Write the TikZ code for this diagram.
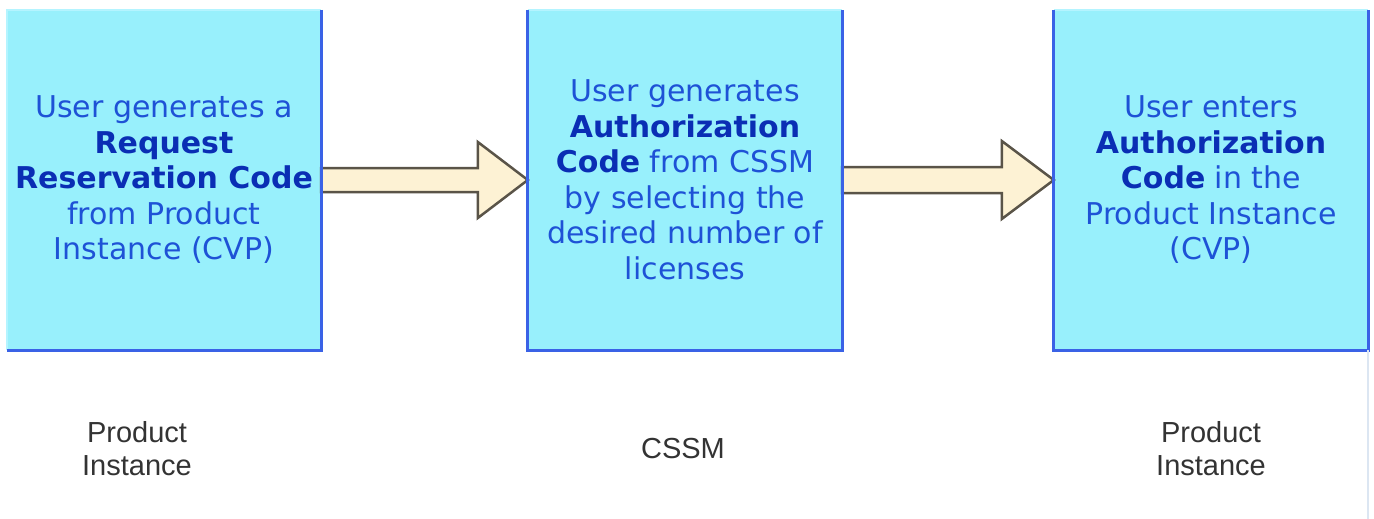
\documentclass[tikz,border=0pt]{standalone}
\usepackage{fontspec}
\setmainfont{DejaVu Sans}
\newfontfamily\labfont{Liberation Sans}
\usetikzlibrary{calc}
\definecolor{boxfill}{HTML}{98F0FC}
\definecolor{edgeblue}{HTML}{3A62E6}
\definecolor{edgelight}{HTML}{B4F4FF}
\definecolor{txtblue}{HTML}{1E52D6}
\definecolor{boldblue}{HTML}{0A2EB4}
\definecolor{arrowfill}{HTML}{FDF2D4}
\definecolor{arrowline}{HTML}{5A5448}
\definecolor{labgray}{HTML}{333333}
\definecolor{faintline}{HTML}{DCE6F2}
\newcommand\kw[1]{\textcolor{boldblue}{\textbf{#1}}}
\begin{document}
\begin{tikzpicture}[x=1pt,y=-1pt,
  stepbox/.style={minimum width=314pt, minimum height=340pt, fill=boxfill,
    inner sep=0pt, align=center, text=txtblue,
    font=\fontsize{30}{35.5}\selectfont},
  lab/.style={align=center, text=labgray, inner sep=0pt,
    font=\labfont\fontsize{29}{33}\selectfont},
  blockarr/.style={fill=arrowfill, draw=arrowline, line width=2.5pt, line join=miter},
  edge/.style={draw=edgeblue, line width=3pt},
  topedge/.style={draw=edgelight, line width=2pt}]
\useasboundingbox (0,0) rectangle (1374,519);
\fill[white] (0,0) rectangle (1374,519);

\node[stepbox] (b1) at (164,180) {User generates a\\\kw{Request}\\\kw{Reservation Code}\\from Product\\Instance (CVP)};
\node[stepbox] (b2) at (685,180) {User generates\\\kw{Authorization}\\\kw{Code} from CSSM\\by selecting the\\desired number of\\licenses};
\node[stepbox] (b3) at (1211,180) {User enters\\\kw{Authorization}\\\kw{Code} in the\\Product Instance\\(CVP)};

\draw[blockarr] ($(b1.east)+(0,-12)$) -- ($(b2.west)+(-50,-12)$) -- ($(b2.west)+(-50,-38)$) -- (b2.west) -- ($(b2.west)+(-50,38)$) -- ($(b2.west)+(-50,12)$) -- ($(b1.east)+(0,12)$) -- cycle;
\draw[blockarr] ($(b2.east)+(0,-13)$) -- ($(b3.west)+(-52,-13)$) -- ($(b3.west)+(-52,-39)$) -- (b3.west) -- ($(b3.west)+(-52,39)$) -- ($(b3.west)+(-52,13)$) -- ($(b2.east)+(0,13)$) -- cycle;

\draw[topedge] (b1.south west) -- (b1.north west) -- (b1.north east);
\draw[edge] (b1.north east) -- (b1.south east) -- (b1.south west);
\draw[topedge] (b2.north west) -- (b2.north east);
\draw[edge] (b2.north west) -- (b2.south west) -- (b2.south east) -- (b2.north east);
\draw[topedge] (b3.north west) -- (b3.north east);
\draw[edge] (b3.north west) -- (b3.south west) -- (b3.south east) -- (b3.north east);
\draw[faintline, line width=2pt] (b3.south east) -- ++(0,169);

\node[lab] (l1) at (137,449) {Product\\Instance};
\node[lab] (l2) at (683,449) {CSSM};
\node[lab] (l3) at (1211,449) {Product\\Instance};
\end{tikzpicture}
\end{document}
